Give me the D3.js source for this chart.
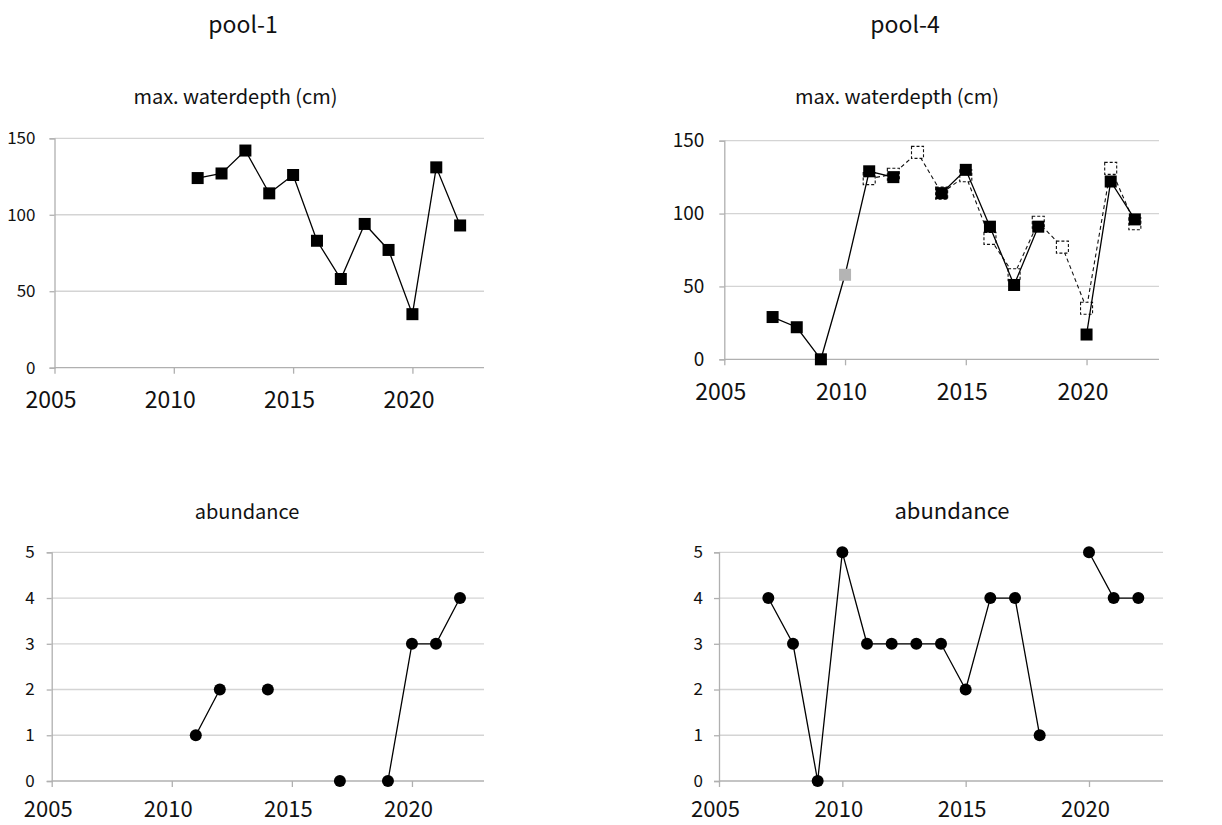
<!DOCTYPE html>
<html>
<head>
<meta charset="utf-8">
<script src="https://cdn.jsdelivr.net/npm/d3@7"></script>
<style>
  html, body { margin: 0; padding: 0; background: #fff; }
  svg { display: block; }
  text { font-family: "Noto Sans CJK JP", "Noto Sans", sans-serif; fill: #111; }
</style>
</head>
<body>
<svg id="chart" width="1222" height="825"></svg>
<script>
// ---------------- data ----------------
const xTicks = [2005, 2010, 2015, 2020];
const depthTicks = [0, 50, 100, 150];
const abundanceTicks = [0, 1, 2, 3, 4, 5];

const pool1Years = [2011, 2012, 2013, 2014, 2015, 2016, 2017, 2018, 2019, 2020, 2021, 2022];
const pool1Depth = [124, 127, 142, 114, 126, 83, 58, 94, 77, 35, 131, 93];
const pool1Abundance = [1, 2, null, 2, null, null, 0, null, 0, 3, 3, 4];

const pool4Years = [2007, 2008, 2009, 2010, 2011, 2012, 2013, 2014, 2015, 2016, 2017, 2018, 2019, 2020, 2021, 2022];
const pool4Depth = [29, 22, 0, 58, 129, 125, null, 114, 130, 91, 51, 91, null, 17, 122, 96];
const pool4DepthGreyYears = [2010];
const pool4Abundance = [4, 3, 0, 5, 3, 3, 3, 3, 2, 4, 4, 1, null, 5, 4, 4];

const poolTitles = ["pool-1", "pool-4"];
const depthTitle = "max. waterdepth (cm)";
const abundanceTitle = "abundance";

// ---------------- drawing ----------------
const svg = d3.select("#chart");
const FONT = '"Noto Sans CJK JP", "Noto Sans", sans-serif';

function zip(years, vals) { return years.map((y, i) => ({ x: y, v: vals[i] })); }

function panel(cfg) {
  const g = svg.append("g");
  const x = d3.scaleLinear().domain([2005, 2023]).range([cfg.x0, cfg.x1]);
  const y = d3.scaleLinear().domain([0, cfg.yMax]).range([cfg.y0, cfg.y1]);

  // gridlines
  g.append("g").selectAll("line").data(cfg.yTicks.filter(t => t > 0)).join("line")
    .attr("x1", cfg.x0).attr("x2", cfg.x1)
    .attr("y1", d => y(d)).attr("y2", d => y(d))
    .attr("stroke", "#d4d4d4").attr("stroke-width", 1.3);

  // y axis
  const ya = g.append("g").attr("transform", `translate(${cfg.x0},0)`)
    .call(d3.axisLeft(y).tickValues(cfg.yTicks).tickSize(5).tickPadding(cfg.yPad).tickFormat(d3.format("d")));
  ya.select(".domain").attr("stroke", "#b0b0b0").attr("stroke-width", 1.3);
  ya.selectAll(".tick line").attr("stroke", "#b0b0b0").attr("stroke-width", 1.3);
  ya.selectAll(".tick text").attr("font-size", cfg.yFont).attr("fill", "#111")
    .style("font-family", FONT);

  // x axis
  const xa = g.append("g").attr("transform", `translate(0,${cfg.y0})`)
    .call(d3.axisBottom(x).tickValues(xTicks).tickSize(6).tickPadding(cfg.xPad).tickFormat(d3.format("d")));
  xa.select(".domain").attr("stroke", "#b0b0b0").attr("stroke-width", 1.3)
    .attr("d", `M${cfg.x0},0H${cfg.x1}`);
  xa.selectAll(".tick line").attr("stroke", "#b0b0b0").attr("stroke-width", 1.3);
  xa.selectAll(".tick text").attr("font-size", cfg.xFont).attr("fill", "#111").attr("dx", -4)
    .style("font-family", FONT);

  // subtitle
  g.append("text").attr("x", cfg.titleX).attr("y", cfg.titleY)
    .attr("text-anchor", "middle").attr("font-size", cfg.titleFont).text(cfg.title);

  const line = d3.line().defined(d => d.v != null).x(d => x(d.x)).y(d => y(d.v));

  // dashed reference series (drawn underneath)
  if (cfg.dashed) {
    const data = cfg.dashed;
    g.append("path").datum(data).attr("d", line)
      .attr("fill", "none").attr("stroke", "#111").attr("stroke-width", 1.1)
      .attr("stroke-dasharray", "4,3");
    const s = 12;
    g.append("g").selectAll("rect").data(data.filter(d => d.v != null)).join("rect")
      .attr("x", d => x(d.x) - s / 2).attr("y", d => y(d.v) - s / 2)
      .attr("width", s).attr("height", s)
      .attr("fill", "#fff").attr("stroke", "#111").attr("stroke-width", 1.1)
      .attr("stroke-dasharray", "3,2");
  }

  const data = cfg.data;
  g.append("path").datum(data).attr("d", line)
    .attr("fill", "none").attr("stroke", "#000").attr("stroke-width", 1.3);

  const pts = data.filter(d => d.v != null);
  if (cfg.marker === "square") {
    const s = 12;
    g.append("g").selectAll("rect").data(pts).join("rect")
      .attr("x", d => x(d.x) - s / 2).attr("y", d => y(d.v) - s / 2)
      .attr("width", s).attr("height", s)
      .attr("fill", d => (cfg.grey || []).includes(d.x) ? "#b4b4b4" : "#000");
  } else {
    g.append("g").selectAll("circle").data(pts).join("circle")
      .attr("cx", d => x(d.x)).attr("cy", d => y(d.v)).attr("r", 6)
      .attr("fill", "#000");
  }
}

// pool titles
svg.append("text").attr("x", 243).attr("y", 33).attr("text-anchor", "middle")
  .attr("font-size", 23).text(poolTitles[0]);
svg.append("text").attr("x", 905).attr("y", 33).attr("text-anchor", "middle")
  .attr("font-size", 23).text(poolTitles[1]);

panel({
  x0: 54.5, x1: 484, y0: 367.7, y1: 138.3, yMax: 150, yTicks: depthTicks,
  yPad: 14, yFont: 17, xFont: 23, xPad: 18,
  title: depthTitle, titleX: 235.5, titleY: 104, titleFont: 20,
  data: zip(pool1Years, pool1Depth), marker: "square"
});

panel({
  x0: 724.3, x1: 1159, y0: 359.3, y1: 140.7, yMax: 150, yTicks: depthTicks,
  yPad: 15, yFont: 19, xFont: 23, xPad: 18,
  title: depthTitle, titleX: 897, titleY: 104, titleFont: 20,
  dashed: zip(pool1Years, pool1Depth),
  data: zip(pool4Years, pool4Depth), marker: "square", grey: pool4DepthGreyYears
});

panel({
  x0: 51.7, x1: 484, y0: 781, y1: 552.3, yMax: 5, yTicks: abundanceTicks,
  yPad: 12, yFont: 17, xFont: 22, xPad: 14,
  title: abundanceTitle, titleX: 247, titleY: 519, titleFont: 20,
  data: zip(pool1Years, pool1Abundance), marker: "circle"
});

panel({
  x0: 719, x1: 1163, y0: 781, y1: 552.3, yMax: 5, yTicks: abundanceTicks,
  yPad: 11, yFont: 17, xFont: 22, xPad: 14,
  title: abundanceTitle, titleX: 952, titleY: 519, titleFont: 22,
  data: zip(pool4Years, pool4Abundance), marker: "circle"
});
</script>
</body>
</html>
